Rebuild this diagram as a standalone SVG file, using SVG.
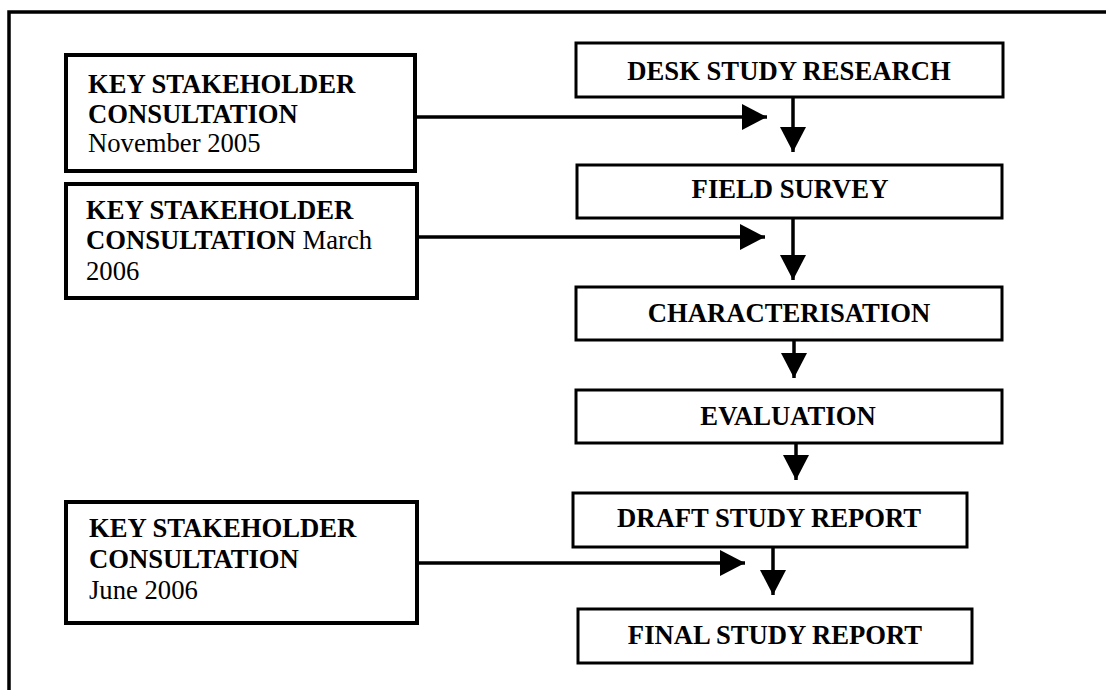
<svg xmlns="http://www.w3.org/2000/svg" width="1106" height="690" viewBox="0 0 1106 690">
<style>
text{font-family:"Liberation Serif","Times New Roman",serif;font-size:26.67px;fill:#000}
.b{font-weight:bold}
.n{font-weight:normal}
.c{text-anchor:middle;font-weight:bold}
.lbox{fill:#fff;stroke:#000;stroke-width:4}
.rbox{fill:#fff;stroke:#000;stroke-width:3}
.con{stroke:#000;stroke-width:3.5;fill:none}
</style>
<defs>
<marker id="ah" markerUnits="userSpaceOnUse" markerWidth="26" markerHeight="27" refX="25" refY="13" orient="auto" viewBox="0 0 26 27">
<path d="M0,0 L25,13 L0,26 z" fill="#000"/>
</marker>
</defs>
<rect width="1106" height="690" fill="#fff"/>
<path id="frame" d="M9,690 V12 H1106" fill="none" stroke="#000" stroke-width="3.5"/>

<g id="ksc1">
<rect class="lbox" x="66" y="55" width="349" height="116"/>
<text x="88" y="93" class="b">KEY STAKEHOLDER</text>
<text x="88" y="123" class="b">CONSULTATION</text>
<text x="88" y="152">November 2005</text>
</g>
<g id="ksc2">
<rect class="lbox" x="66" y="184" width="351" height="114"/>
<text x="86" y="219" class="b">KEY STAKEHOLDER</text>
<text x="86" y="249" class="b">CONSULTATION<tspan class="n"> March</tspan></text>
<text x="86" y="280">2006</text>
</g>
<g id="ksc3">
<rect class="lbox" x="66" y="502" width="351" height="121"/>
<text x="89" y="537" class="b">KEY STAKEHOLDER</text>
<text x="89" y="568" class="b">CONSULTATION</text>
<text x="89" y="599">June 2006</text>
</g>

<g id="desk">
<rect class="rbox" x="576" y="43" width="427" height="54"/>
<text x="789" y="80" class="c">DESK STUDY RESEARCH</text>
</g>
<g id="field">
<rect class="rbox" x="577" y="165" width="425" height="53"/>
<text x="790" y="198" class="c">FIELD SURVEY</text>
</g>
<g id="char">
<rect class="rbox" x="576" y="287" width="426" height="53"/>
<text x="789" y="322" class="c">CHARACTERISATION</text>
</g>
<g id="eval">
<rect class="rbox" x="576" y="390" width="426" height="53"/>
<text x="788" y="425" class="c">EVALUATION</text>
</g>
<g id="draft">
<rect class="rbox" x="573" y="493" width="394" height="54"/>
<text x="769" y="527" class="c">DRAFT STUDY REPORT</text>
</g>
<g id="final">
<rect class="rbox" x="578" y="609" width="394" height="54"/>
<text x="775" y="644" class="c">FINAL STUDY REPORT</text>
</g>

<g id="connectors" class="con" marker-end="url(#ah)">
<line x1="417" y1="117" x2="767" y2="117" marker-end="url(#ah)"/>
<line x1="417" y1="237" x2="765" y2="237" marker-end="url(#ah)"/>
<line x1="417" y1="563" x2="745" y2="563" marker-end="url(#ah)"/>
<line x1="793" y1="97" x2="793" y2="152" marker-end="url(#ah)"/>
<line x1="793" y1="218" x2="793" y2="280" marker-end="url(#ah)"/>
<line x1="794" y1="340" x2="794" y2="378" marker-end="url(#ah)"/>
<line x1="796" y1="443" x2="796" y2="480" marker-end="url(#ah)"/>
<line x1="773" y1="547" x2="773" y2="595" marker-end="url(#ah)"/>
</g>
</svg>
